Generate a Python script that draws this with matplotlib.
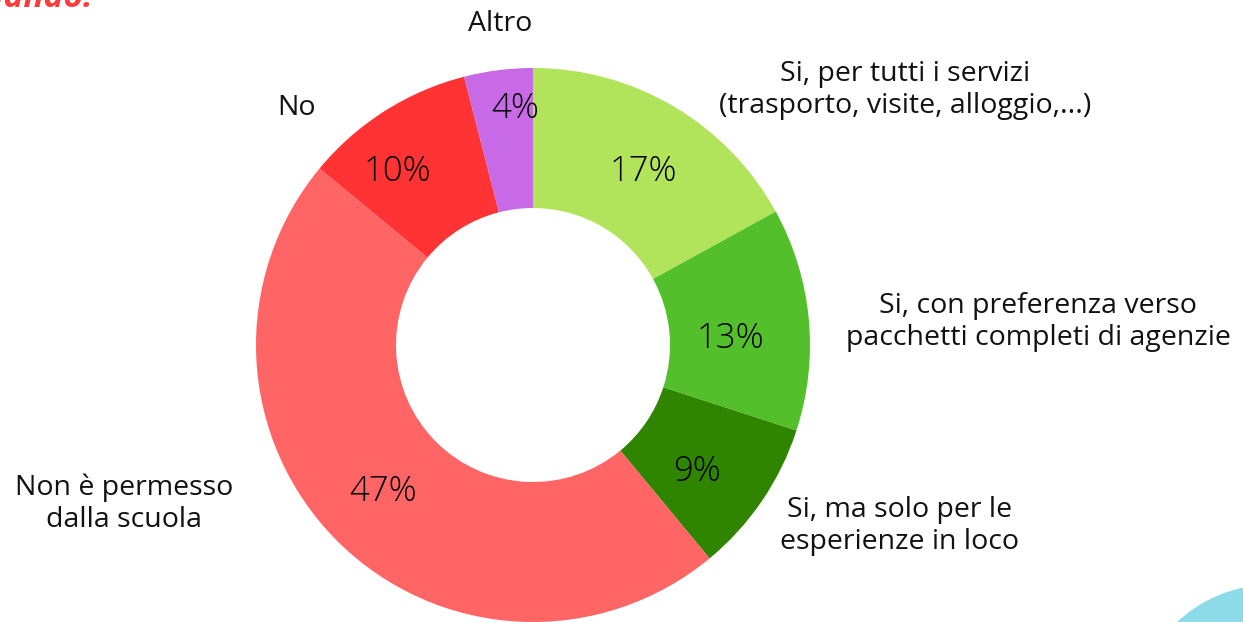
import numpy as np
import matplotlib.pyplot as plt
from matplotlib.patches import Circle

plt.rcParams['font.family'] = ['Open Sans', 'DejaVu Sans']

labels = ['Si, per tutti i servizi\n(trasporto, visite, alloggio,...)',
          'Si, con preferenza verso\npacchetti completi di agenzie',
          'Si, ma solo per le\nesperienze in loco',
          'Non è permesso\ndalla scuola',
          'No',
          'Altro']
values = [17, 13, 9, 47, 10, 4]
colors = ['#b1e35b', '#53bf2b', '#2f8500', '#ff6565', '#ff3333', '#c86ae6']

W, H = 1243, 622
fig = plt.figure(figsize=(W / 100, H / 100), dpi=100, facecolor='white')
ax = fig.add_axes([0, 0, 1, 1])

cx, cy, r = 533, 345, 277
wedges, _, autotexts = ax.pie(values, colors=colors, startangle=90, counterclock=False,
                              center=(cx, H - cy), radius=r,
                              wedgeprops={'width': 140, 'linewidth': 0},
                              autopct='%d%%', pctdistance=0.75,
                              textprops={'fontsize': 25, 'color': 'black'})

# percentages sit a bit off the radial midpoint in the original
pct_pos = [(643, 172), (730, 339), (697, 472), (383, 492), (397, 172), (515, 109)]
for t, (x, y) in zip(autotexts, pct_pos):
    t.set_position((x, H - y))
    t.set_fontweight('light')

# outside labels, placed where the original has them (pixel coords from top)
label_pos = [(905, 90), (1038, 322), (900, 526), (124, 504), (297, 108), (500, 24)]
for txt, (x, y) in zip(labels, label_pos):
    ax.text(x, H - y, txt, ha='center', va='center', fontsize=20.5,
            linespacing=1.2, color='#111111')

# clipped heading at the top left and decoration at the bottom right
ax.text(92, H - 7, 'Quando.', ha='right', va='baseline', fontsize=24,
        fontweight='bold', fontstyle='italic', color='#ff3b3b')
ax.add_patch(Circle((1270, H - 720), 135, color='#8ddbe8', lw=0))

ax.set_xlim(0, W)
ax.set_ylim(0, H)
ax.set_aspect('equal')
ax.axis('off')

fig.savefig('out.png', dpi=100, facecolor='white')
